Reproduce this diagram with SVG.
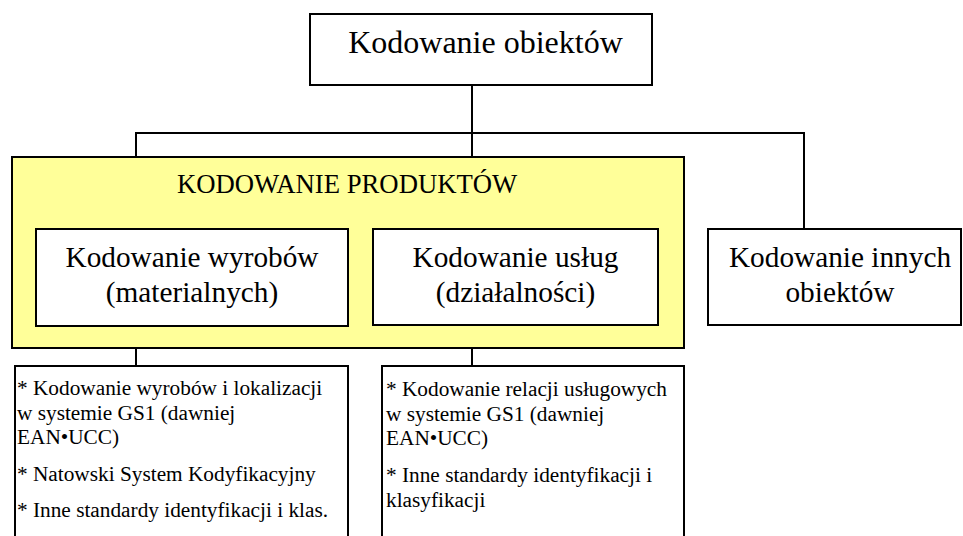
<svg xmlns="http://www.w3.org/2000/svg" width="963" height="536" viewBox="0 0 963 536">
<style>
.box{fill:#fff;stroke:#000;stroke-width:2}
.yel{fill:#FFFF99;stroke:#000;stroke-width:2}
.ln{fill:none;stroke:#000;stroke-width:2}
.t32{font-size:32px;text-anchor:middle}
.t29{font-size:29.3px;text-anchor:middle}
.t27{font-size:26.7px}
.t21{font-size:21.3px}
</style>
<rect width="963" height="536" fill="#fff"/>
<g id="connectors">
<path class="ln" d="M472,85 V157 M136,157 V133 H804 V229 M136,348 V366 M472,348 V366"/>
</g>
<g font-family="Liberation Serif, Times New Roman, DejaVu Serif, serif" fill="#000">
<g id="root">
<rect class="box" x="310" y="14" width="342" height="71"/>
<text class="t32" x="485.5" y="53">Kodowanie obiektów</text>
</g>
<g id="produkty">
<rect class="yel" x="12" y="157" width="672" height="191"/>
<text class="t27" x="177" y="193">KODOWANIE PRODUKTÓW</text>
</g>
<g id="wyroby">
<rect class="box" x="36" y="229" width="312" height="97"/>
<text class="t29" x="192" y="267">Kodowanie wyrobów</text>
<text class="t29" x="192" y="302">(materialnych)</text>
</g>
<g id="uslugi">
<rect class="box" x="373" y="229" width="285" height="96"/>
<text class="t29" x="515.5" y="267">Kodowanie usług</text>
<text class="t29" x="515.5" y="302">(działalności)</text>
</g>
<g id="inne">
<rect class="box" x="708" y="229" width="253" height="96"/>
<text class="t29" x="840" y="267">Kodowanie innych</text>
<text class="t29" x="840" y="302">obiektów</text>
</g>
<g id="lista-wyroby">
<rect class="box" x="15" y="366" width="333" height="190"/>
<text class="t21" x="17" y="395">* Kodowanie wyrobów i lokalizacji</text>
<text class="t21" x="17" y="420">w systemie GS1 (dawniej</text>
<text class="t21" x="17" y="444">EAN•UCC)</text>
<text class="t21" x="17" y="481">* Natowski System Kodyfikacyjny</text>
<text class="t21" x="17" y="517">* Inne standardy identyfikacji i klas.</text>
</g>
<g id="lista-uslugi">
<rect class="box" x="382" y="366" width="302" height="190"/>
<text class="t21" x="386" y="396">* Kodowanie relacji usługowych</text>
<text class="t21" x="386" y="421">w systemie GS1 (dawniej</text>
<text class="t21" x="386" y="445">EAN•UCC)</text>
<text class="t21" x="386" y="482">* Inne standardy identyfikacji i</text>
<text class="t21" x="386" y="506.5">klasyfikacji</text>
</g>
</g>
</svg>
